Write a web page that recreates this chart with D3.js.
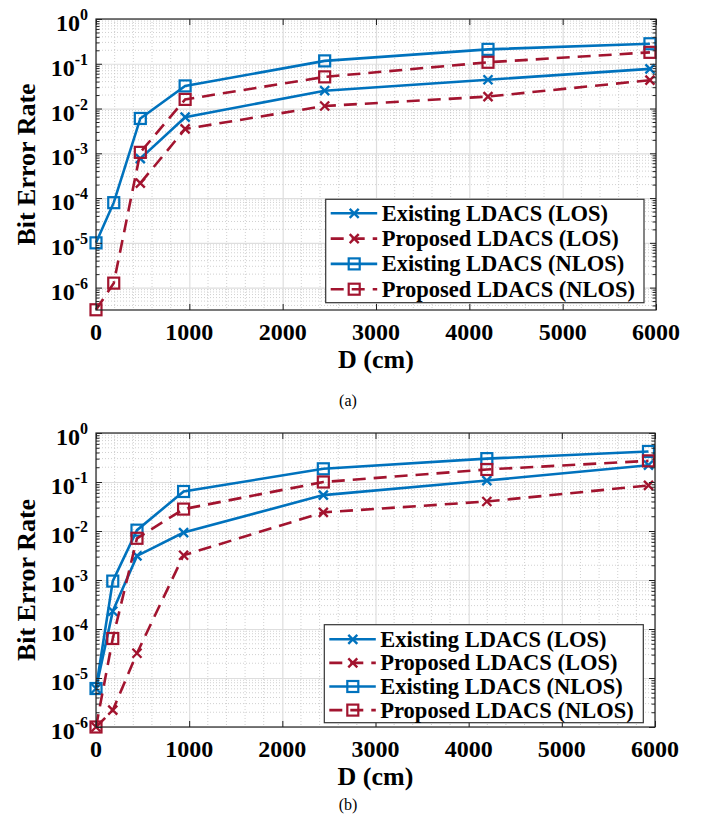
<!DOCTYPE html>
<html>
<head>
<meta charset="utf-8">
<script src="https://cdn.jsdelivr.net/npm/d3@7"></script>
<style>
  body { margin: 0; background: #fff; }
</style>
</head>
<body>
<svg id="chart" width="711" height="829"></svg>
<script>
// legend names, in draw order
const seriesNames = ["Existing LDACS (LOS)", "Proposed LDACS (LOS)", "Existing LDACS (NLOS)", "Proposed LDACS (NLOS)"];
const xTicks = [0, 1000, 2000, 3000, 4000, 5000, 6000];
const yExponents = [0, -1, -2, -3, -4, -5, -6];

// panel (a) -- null = BER of 0, not drawn on log axis
const distA = [0, 190, 475, 955, 2450, 4200, 5935];
const existingLosA = [null, null, 7.6e-4, 6.4e-3, 0.025, 0.044, 0.077];
const proposedLosA = [null, null, 2.15e-4, 3.5e-3, 0.0114, 0.0185, 0.043];
const existingNlosA = [1e-5, 7.9e-5, 6.0e-3, 0.032, 0.116, 0.21, 0.28];
const proposedNlosA = [3.2e-7, 1.26e-6, 1.05e-3, 0.016, 0.051, 0.108, 0.18];

// panel (b)
const distB = [0, 180, 440, 940, 2440, 4195, 5930];
const existingLosB = [6.1e-6, 2.3e-4, 3.1e-3, 9.3e-3, 0.054, 0.107, 0.22];
const proposedLosB = [1e-6, 2.2e-6, 3.2e-5, 3.2e-3, 0.024, 0.040, 0.085];
const existingNlosB = [6.1e-6, 9.5e-4, 0.0104, 0.064, 0.186, 0.30, 0.42];
const proposedNlosB = [1e-6, 6.4e-5, 7.1e-3, 0.028, 0.10, 0.18, 0.27];

const blue = "#0072BD";
const red = "#A2142F";
const styles = [
  { color: blue, dash: null, marker: "x" },
  { color: red, dash: "13,8", marker: "x" },
  { color: blue, dash: null, marker: "sq" },
  { color: red, dash: "13,8", marker: "sq" }
];
const font = '"Liberation Serif"';

const svg = d3.select("#chart");

function txt(sel, size, bold) {
  return sel.style("font-family", font)
    .style("font-size", size + "px")
    .style("font-weight", bold ? "bold" : "normal");
}

function drawMarker(g, type, cx, cy, color) {
  if (type === "sq") {
    g.append("rect")
      .attr("x", cx - 5.5).attr("y", cy - 5.5)
      .attr("width", 11).attr("height", 11)
      .attr("fill", "none").attr("stroke", color).attr("stroke-width", 2.2);
  } else {
    const s = 4.5;
    g.append("path")
      .attr("d", `M${cx - s},${cy - s}L${cx + s},${cy + s}M${cx - s},${cy + s}L${cx + s},${cy - s}`)
      .attr("stroke", color).attr("stroke-width", 2.4).attr("fill", "none");
  }
}

function drawPanel(p) {
  const w = p.right - p.left, h = p.bottom - p.top;
  const x = d3.scaleLinear().domain([0, 6000]).range([p.left, p.right]);
  const y = d3.scaleLog().domain([p.yMin, 1]).range([p.bottom, p.top]);
  const g = svg.append("g");

  // minor grid (dotted)
  const xMinor = d3.range(200, 6000, 200).filter(v => v % 1000 !== 0);
  const yMinor = [];
  for (let e = -7; e < 0; e++) for (let m = 2; m <= 9; m++) {
    const v = m * Math.pow(10, e);
    if (v > p.yMin && v < 1) yMinor.push(v);
  }
  const minor = g.append("g").attr("stroke", "#c4c4c4").attr("stroke-width", 0.8).attr("stroke-dasharray", "1,2");
  minor.selectAll("line.vx").data(xMinor).join("line")
    .attr("x1", d => x(d)).attr("x2", d => x(d)).attr("y1", p.top).attr("y2", p.bottom);
  minor.selectAll("line.hy").data(yMinor).join("line")
    .attr("x1", p.left).attr("x2", p.right).attr("y1", d => y(d)).attr("y2", d => y(d));

  // major grid
  const yMajor = yExponents.map(e => Math.pow(10, e));
  g.append("g").attr("transform", `translate(0,${p.bottom})`)
    .call(d3.axisBottom(x).tickValues(xTicks).tickSize(-h).tickFormat(""))
    .call(a => a.select(".domain").remove())
    .call(a => a.selectAll("line").attr("stroke", "#dedede").attr("stroke-width", 1.2));
  g.append("g").attr("transform", `translate(${p.left},0)`)
    .call(d3.axisLeft(y).tickValues(yMajor).tickSize(-w).tickFormat(""))
    .call(a => a.select(".domain").remove())
    .call(a => a.selectAll("line").attr("stroke", "#dedede").attr("stroke-width", 1.2));

  // series
  const line = d3.line().defined(d => d.v != null).x(d => x(d.d)).y(d => y(d.v));
  p.series.forEach((vals, i) => {
    const st = styles[i];
    const pts = vals.map((v, j) => ({ d: p.dist[j], v: v }));
    const sg = g.append("g");
    sg.append("path")
      .attr("d", line(pts))
      .attr("fill", "none").attr("stroke", st.color).attr("stroke-width", 2.6)
      .attr("stroke-dasharray", st.dash);
    pts.filter(d => d.v != null).forEach(d => drawMarker(sg, st.marker, x(d.d), y(d.v), st.color));
  });

  // box + inward ticks
  g.append("rect").attr("x", p.left).attr("y", p.top).attr("width", w).attr("height", h)
    .attr("fill", "none").attr("stroke", "#222").attr("stroke-width", 1.2);
  const tickStyle = a => {
    a.select(".domain").remove();
    a.selectAll("line").attr("stroke", "#222");
  };
  g.append("g").attr("transform", `translate(0,${p.bottom})`)
    .call(d3.axisBottom(x).tickValues(xTicks).tickSize(-6).tickFormat("")).call(tickStyle);
  g.append("g").attr("transform", `translate(0,${p.top})`)
    .call(d3.axisTop(x).tickValues(xTicks).tickSize(-6).tickFormat("")).call(tickStyle);
  g.append("g").attr("transform", `translate(${p.left},0)`)
    .call(d3.axisLeft(y).tickValues(yMajor).tickSize(-6).tickFormat("")).call(tickStyle);
  g.append("g").attr("transform", `translate(${p.right},0)`)
    .call(d3.axisRight(y).tickValues(yMajor).tickSize(-6).tickFormat("")).call(tickStyle);
  g.append("g").attr("transform", `translate(${p.left},0)`)
    .call(d3.axisLeft(y).tickValues(yMinor).tickSize(-3.5).tickFormat("")).call(tickStyle);
  g.append("g").attr("transform", `translate(${p.right},0)`)
    .call(d3.axisRight(y).tickValues(yMinor).tickSize(-3.5).tickFormat("")).call(tickStyle);

  // tick labels
  g.selectAll("text.xt").data(xTicks).join("text")
    .attr("x", d => x(d)).attr("y", p.bottom + 30)
    .attr("text-anchor", "middle").call(txt, 24, true).text(d => d);
  const yl = g.selectAll("text.yt").data(yExponents).join("text")
    .attr("x", 88).attr("y", d => y(Math.pow(10, d)) + 12)
    .attr("text-anchor", "end").call(txt, 24, true);
  yl.append("tspan").text("10");
  yl.append("tspan").attr("dy", -11).style("font-size", "16px").text(d => d === 0 ? "0" : "-" + (-d));

  // axis labels
  g.append("text")
    .attr("x", (p.left + p.right) / 2).attr("y", p.bottom + 58)
    .attr("text-anchor", "middle").call(txt, 26, true).text("D (cm)");
  g.append("text")
    .attr("transform", `translate(${35},${(p.top + p.bottom) / 2}) rotate(-90)`)
    .attr("text-anchor", "middle").call(txt, 26, true).text("Bit Error Rate");

  // legend
  const lg = g.append("g");
  lg.append("rect").attr("x", p.legX).attr("y", p.legY).attr("width", p.legW).attr("height", p.legH)
    .attr("fill", "#fff").attr("stroke", "#333").attr("stroke-width", 1.2);
  seriesNames.forEach((name, i) => {
    const st = styles[i];
    const ry = p.legY + p.legRow0 + i * p.legStep;
    lg.append("line")
      .attr("x1", p.legX + 5).attr("x2", p.legX + 51.5).attr("y1", ry).attr("y2", ry)
      .attr("stroke", st.color).attr("stroke-width", 2.6).attr("stroke-dasharray", st.dash);
    drawMarker(lg, st.marker, p.legX + 28.5, ry, st.color);
    lg.append("text")
      .attr("x", p.legX + 56).attr("y", ry + 7.5)
      .call(txt, 22.5, true).text(name);
  });

  // panel caption
  svg.append("text")
    .attr("x", 348).attr("y", p.captionY)
    .attr("text-anchor", "middle").call(txt, 16, false)
    .text(p.caption);
}

drawPanel({
  left: 96, right: 656, top: 19, bottom: 310, yMin: Math.pow(10, -6.5),
  dist: distA, series: [existingLosA, proposedLosA, existingNlosA, proposedNlosA],
  legX: 325.7, legY: 199.3, legW: 318.3, legH: 103.4, legRow0: 14, legStep: 25.3,
  caption: "(a)", captionY: 406
});
drawPanel({
  left: 96, right: 655, top: 433, bottom: 727, yMin: 1e-6,
  dist: distB, series: [existingLosB, proposedLosB, existingNlosB, proposedNlosB],
  legX: 324.3, legY: 624.7, legW: 319, legH: 98, legRow0: 14.6, legStep: 23.6,
  caption: "(b)", captionY: 810
});
</script>
</body>
</html>
